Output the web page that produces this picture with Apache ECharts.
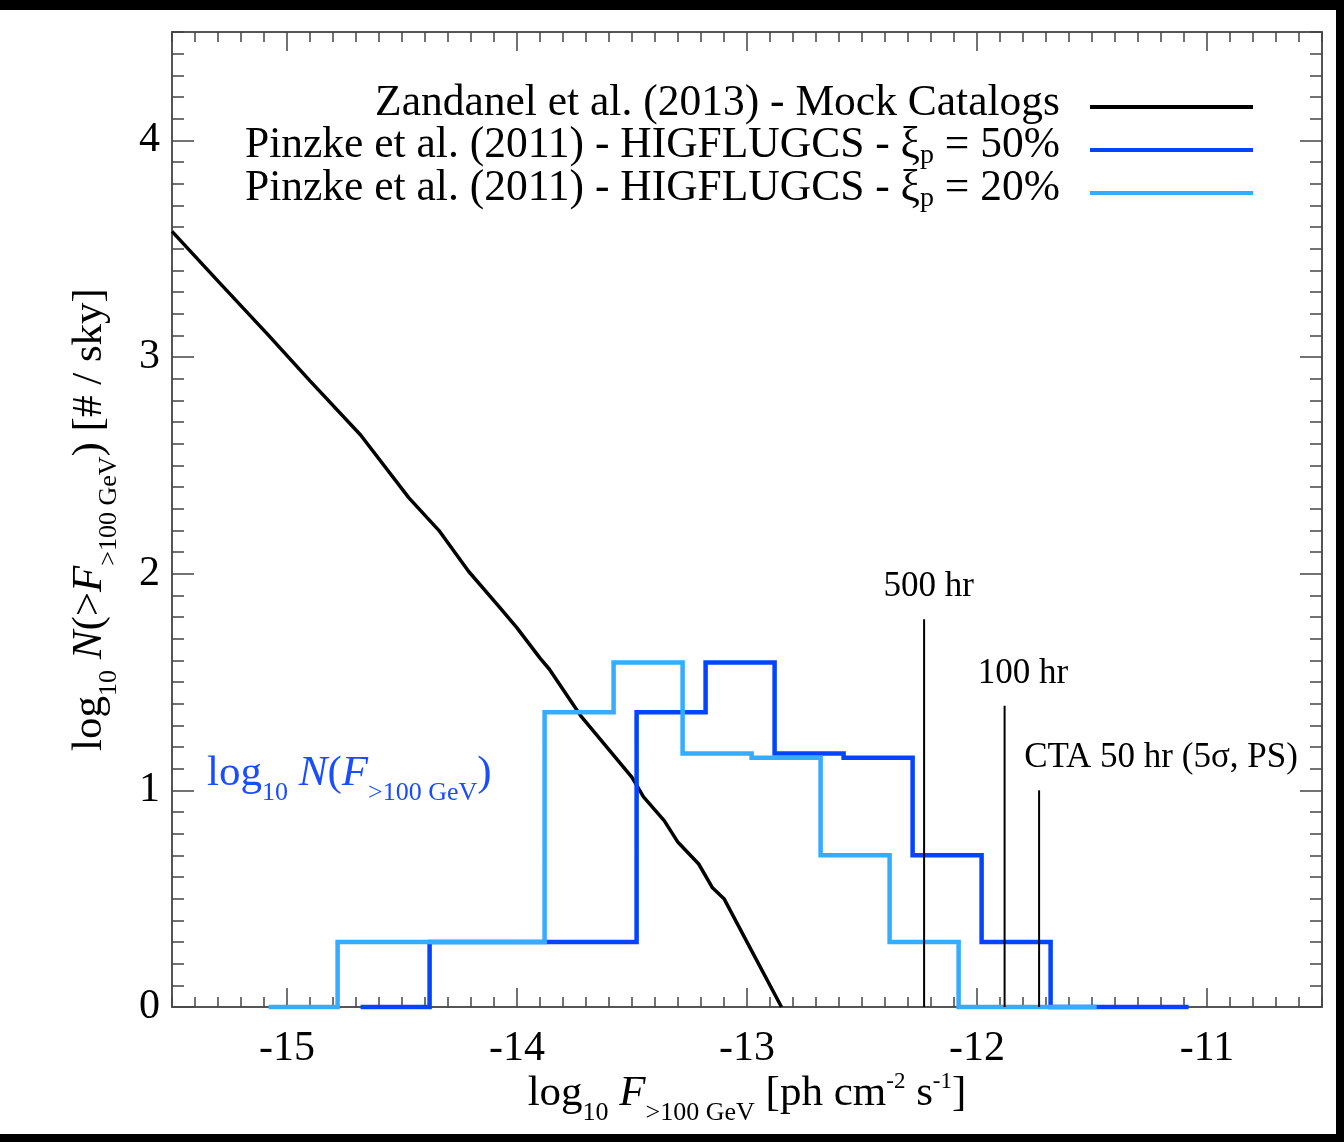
<!DOCTYPE html>
<html>
<head>
<meta charset="utf-8">
<title>Cluster gamma-ray logN-logS</title>
<script src="https://cdn.jsdelivr.net/npm/echarts@6/dist/echarts.min.js"></script>
<style>
  html, body { margin: 0; padding: 0; background: #000; }
  #chart { position: absolute; left: 0; top: 10px; width: 1336px; height: 1124px; background: #fff; }
</style>
</head>
<body>
<div id="chart"></div>
<script>
// Zandanel et al. (2013): cumulative counts from the mock catalogs
const mockFlux = [-15.50, -15.30, -15.08, -14.90, -14.68, -14.47, -14.34, -14.21, -14.08, -14.00, -13.90,
                  -13.86, -13.72, -13.50, -13.45, -13.36, -13.30, -13.21, -13.15, -13.10, -12.99, -12.85];
const mockLogN = [3.58, 3.35, 3.10, 2.89, 2.64, 2.35, 2.20, 2.01, 1.85, 1.75, 1.61,
                  1.56, 1.34, 1.06, 0.97, 0.86, 0.76, 0.66, 0.55, 0.50, 0.28, 0.00];

// Pinzke et al. (2011) HIGFLUGCS histograms: bin edges (0.3 dex) and log10 N per bin
const xi50Edges = [-14.68, -14.38, -14.08, -13.78, -13.48, -13.18, -12.88, -12.58, -12.28, -11.98, -11.68, -11.38, -11.08];
const xi50LogN  = [0, 0.30, 0.30, 0.30, 1.36, 1.59, 1.17, 1.15, 0.70, 0.30, 0, 0];
const xi20Edges = [-15.08, -14.78, -14.48, -14.18, -13.88, -13.58, -13.28, -12.98, -12.68, -12.38, -12.08, -11.78, -11.48];
const xi20LogN  = [0, 0.30, 0.30, 0.30, 1.36, 1.59, 1.17, 1.15, 0.70, 0.30, 0, 0];

// CTA point-source sensitivity markers
const ctaLabels = ['500 hr', '100 hr', 'CTA 50 hr (5σ, PS)'];
const ctaFlux   = [-12.23, -11.88, -11.73];
const ctaTop    = [1.79, 1.39, 1.00];
const ctaLabelX = [-12.21, -11.80, -11.20];

// Axis ticks
const xMajorTicks = [-15, -14, -13, -12, -11];
const yMajorTicks = [0, 1, 2, 3, 4];

const legendNames = [
  'Zandanel et al. (2013) - Mock Catalogs',
  'Pinzke et al. (2011) - HIGFLUGCS - ξ{sub|p} = 50%',
  'Pinzke et al. (2011) - HIGFLUGCS - ξ{sub|p} = 20%'
];

const SERIF = '"Liberation Serif", "Times New Roman", serif';
const BLACK = '#000000';
const BLUE = '#0544ff';
const LIGHT = '#34acff';
const LABEL_BLUE = '#1a4dff';
const FRAME = '#555555';
const X_RANGE = [-15.5, -10.5];
const Y_RANGE = [0, 4.5];

function histSteps(edges, vals) {
  const pts = vals.map((v, i) => [edges[i], v]);
  pts.push([edges[edges.length - 1], vals[vals.length - 1]]);
  return pts;
}

const richBig = {
  it: { fontStyle: 'italic', fontFamily: SERIF, fontSize: 43, lineHeight: 64 },
  sub: { fontFamily: SERIF, fontSize: 26, lineHeight: 20, verticalAlign: 'bottom' },
  sup: { fontFamily: SERIF, fontSize: 23, lineHeight: 23, verticalAlign: 'middle', padding: [0, 0, 24, 0] }
};

function minorAxis(pos, range, step, len) {
  return {
    type: 'value', position: pos, min: range[0], max: range[1], interval: step,
    axisLine: { show: true, onZero: false, lineStyle: { color: FRAME, width: 2 } },
    axisTick: { show: true, inside: true, length: len, lineStyle: { color: '#444', width: 1.5 } },
    axisLabel: { show: false }, splitLine: { show: false }
  };
}
function majorAxis(pos, range, ticks, len, withLabels, margin) {
  return {
    type: 'value', position: pos, min: range[0], max: range[1],
    axisLine: { show: false, onZero: false },
    axisTick: { show: true, inside: true, length: len, customValues: ticks, lineStyle: { color: '#444', width: 1.5 } },
    axisLabel: { show: withLabels, customValues: ticks, color: BLACK, fontFamily: SERIF, fontSize: 42, margin: margin },
    splitLine: { show: false }
  };
}

const chart = echarts.init(document.getElementById('chart'), null, { renderer: 'canvas' });

const xBottomMajor = majorAxis('bottom', X_RANGE, xMajorTicks, 19, true, 21);
Object.assign(xBottomMajor, {
  name: 'log{sub|10} {it|F}{sub|>100 GeV} [ph cm{sup|-2} s{sup|-1}]',
  nameLocation: 'middle', nameGap: 55, nameMoveOverlap: false,
  nameTextStyle: { color: BLACK, fontFamily: SERIF, fontSize: 43, lineHeight: 64, rich: richBig }
});
const yLeftMajor = majorAxis('left', Y_RANGE, yMajorTicks, 22, true, 12);
Object.assign(yLeftMajor, {
  name: 'log{sub|10} {it|N}(>{it|F}{sub|>100 GeV}) [# / sky]',
  nameLocation: 'middle', nameGap: 50, nameMoveOverlap: false,
  nameTextStyle: { color: BLACK, fontFamily: SERIF, fontSize: 43, lineHeight: 64, rich: richBig }
});

const legendRich = { sub: { fontFamily: SERIF, fontSize: 28, lineHeight: 20, verticalAlign: 'bottom' } };
const legendColors = [BLACK, BLUE, LIGHT];
const legendTextY = [104, 146, 189];
const legendLineY = [107, 150, 193];
const legendGraphics = [];
legendNames.forEach((name, i) => {
  legendGraphics.push({
    type: 'text', x: 1060, y: legendTextY[i] - 10,
    style: { text: name, fill: BLACK, font: '43.5px ' + SERIF, align: 'right', verticalAlign: 'middle', lineHeight: 48, rich: legendRich }
  });
  legendGraphics.push({
    type: 'line', shape: { x1: 1090, y1: legendLineY[i] - 10, x2: 1253, y2: legendLineY[i] - 10 },
    style: { stroke: legendColors[i], lineWidth: 4 }
  });
});

const option = {
  animation: false,
  backgroundColor: '#ffffff',
  grid: { left: 172, right: 14, top: 22, bottom: 127, containLabel: false },
  xAxis: [
    minorAxis('bottom', X_RANGE, 0.1, 10),
    xBottomMajor,
    minorAxis('top', X_RANGE, 0.1, 10),
    majorAxis('top', X_RANGE, xMajorTicks, 19, false, 8)
  ],
  yAxis: [
    minorAxis('left', Y_RANGE, 0.1, 12),
    yLeftMajor,
    minorAxis('right', Y_RANGE, 0.1, 12),
    majorAxis('right', Y_RANGE, yMajorTicks, 22, false, 8)
  ],
  series: [
    {
      name: 'mock', type: 'line', xAxisIndex: 0, yAxisIndex: 0,
      data: mockFlux.map((x, i) => [x, mockLogN[i]]),
      showSymbol: false, symbol: 'none', clip: false,
      lineStyle: { color: BLACK, width: 3.5 }, z: 3
    },
    {
      name: 'xi50', type: 'line', xAxisIndex: 0, yAxisIndex: 0, step: 'end',
      data: histSteps(xi50Edges, xi50LogN),
      showSymbol: false, symbol: 'none', clip: false,
      lineStyle: { color: BLUE, width: 4.5, join: 'miter', cap: 'butt' }, z: 4
    },
    {
      name: 'xi20', type: 'line', xAxisIndex: 0, yAxisIndex: 0, step: 'end',
      data: histSteps(xi20Edges, xi20LogN),
      showSymbol: false, symbol: 'none', clip: false,
      lineStyle: { color: LIGHT, width: 4.5, join: 'miter', cap: 'butt' }, z: 5
    },
    {
      name: 'cta', type: 'custom', xAxisIndex: 0, yAxisIndex: 0, clip: false, z: 6,
      data: ctaFlux.map((x, i) => [x, ctaTop[i], ctaLabelX[i]]),
      renderItem: function (params, api) {
        const i = params.dataIndex;
        const base = api.coord([api.value(0), 0]);
        const top = api.coord([api.value(0), api.value(1)]);
        const lab = api.coord([api.value(2), api.value(1)]);
        return {
          type: 'group',
          children: [
            { type: 'line', shape: { x1: base[0], y1: base[1], x2: top[0], y2: top[1] },
              style: { stroke: BLACK, lineWidth: 2 } },
            { type: 'text', x: lab[0], y: lab[1] - 15,
              style: { text: ctaLabels[i], fill: BLACK, font: '35px ' + SERIF, align: 'center', verticalAlign: 'bottom' } }
          ]
        };
      }
    }
  ],
  graphic: legendGraphics.concat([
    // differential counts annotation
    { type: 'text', x: 207, y: 774 - 10,
      style: { text: 'log{sub|10} {it|N}({it|F}{sub|>100 GeV})', fill: LABEL_BLUE, font: '43px ' + SERIF,
        align: 'left', verticalAlign: 'middle', lineHeight: 64,
        rich: {
          it: { fontStyle: 'italic', fontFamily: SERIF, fontSize: 43, lineHeight: 64, fill: LABEL_BLUE },
          sub: { fontFamily: SERIF, fontSize: 26, lineHeight: 20, verticalAlign: 'bottom', fill: LABEL_BLUE }
        } } }
  ])
};

chart.setOption(option);
</script>
</body>
</html>
